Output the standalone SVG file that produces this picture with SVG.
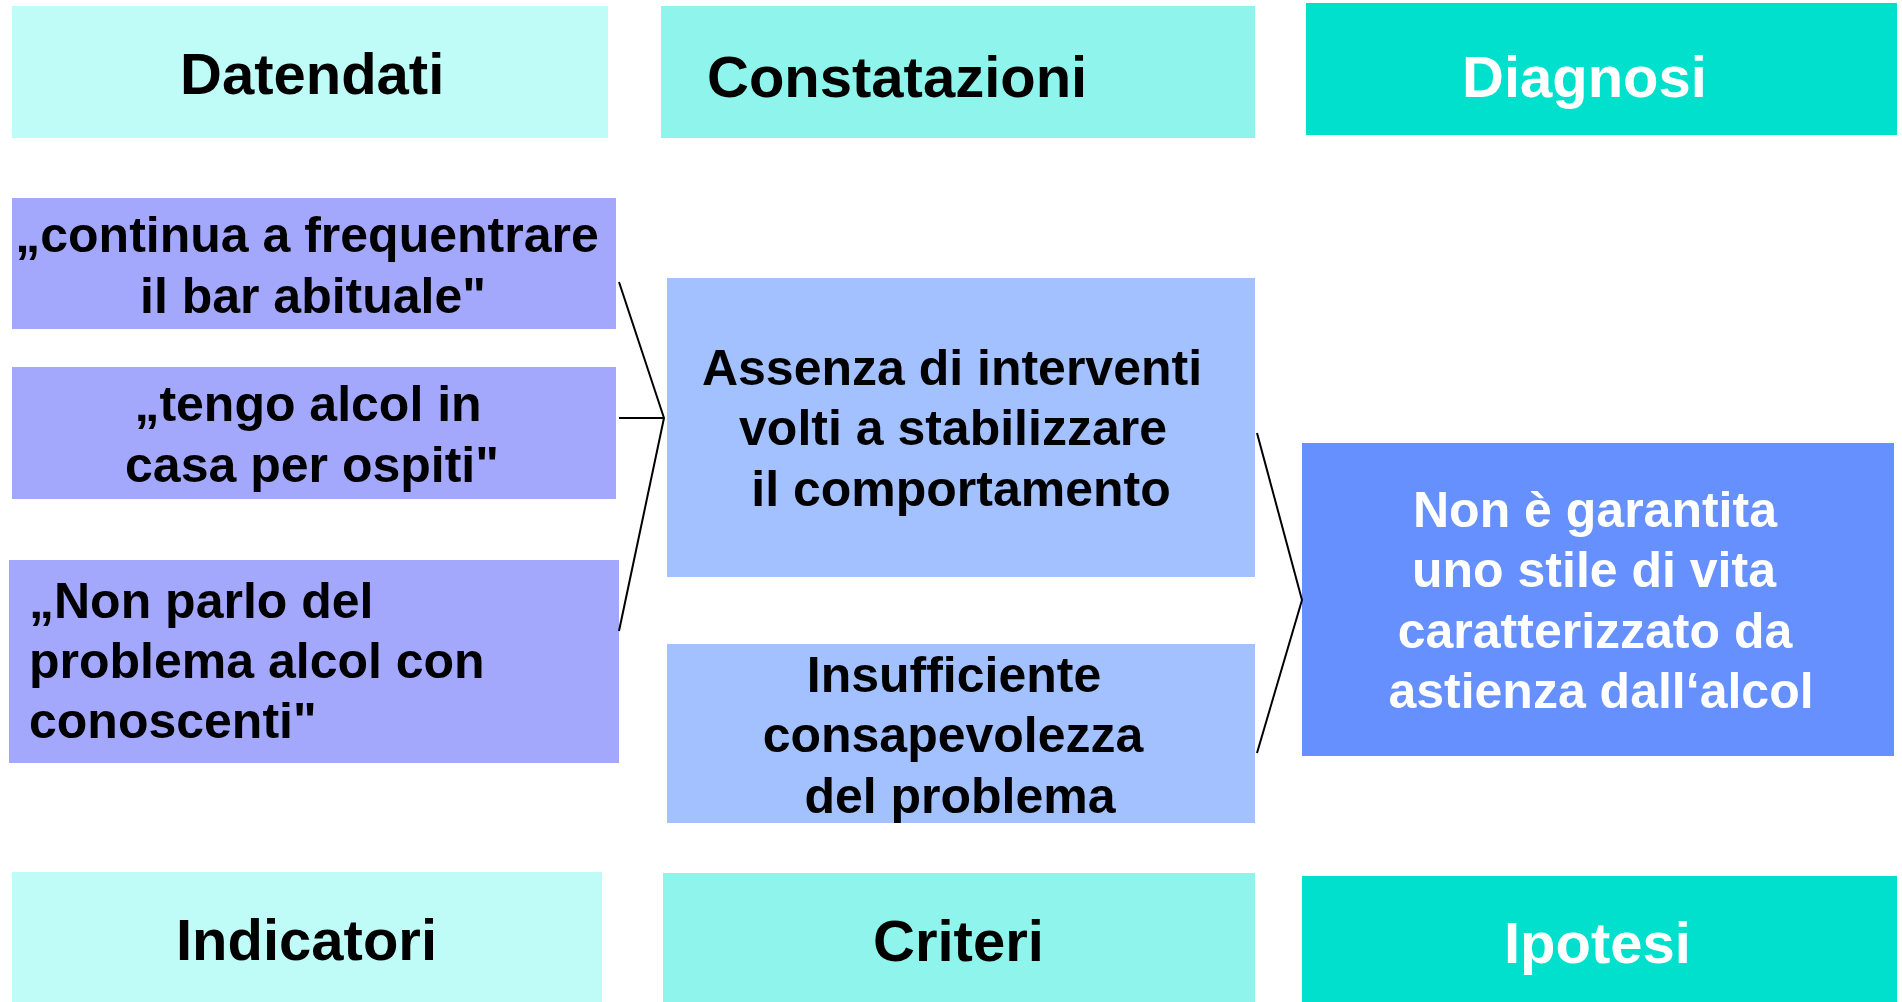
<svg xmlns="http://www.w3.org/2000/svg" width="1902" height="1002" viewBox="0 0 1902 1002">
<style>
text{font-family:"Liberation Sans",Arial,sans-serif;font-weight:bold}
.h{font-size:58px}
.b{font-size:50px}
.k{fill:#000}
.w{fill:#fff}
.c1{fill:#BFFCF7}
.c2{fill:#8FF4EC}
.c3{fill:#00E0CC}
.lv{fill:#A3A8FD}
.lb{fill:#A3C1FE}
.db{fill:#6590FE}
.conn{fill:none;stroke:#000;stroke-width:2}
</style>
<rect width="1902" height="1002" fill="#fff"/>
<g id="datendati"><rect class="c1" x="12" y="6" width="596" height="132"/><text class="h k" x="180" y="94">Datendati</text></g>
<g id="constatazioni"><rect class="c2" x="661" y="6" width="594" height="132"/><text class="h k" x="707" y="97">Constatazioni</text></g>
<g id="diagnosi"><rect class="c3" x="1306" y="3" width="591" height="132"/><text class="h w" x="1462" y="97">Diagnosi</text></g>
<g id="d1"><rect class="lv" x="12" y="198" width="604" height="131"/><text class="b k" text-anchor="middle"><tspan x="307" y="252">„continua a frequentrare</tspan><tspan x="313" y="313">il bar abituale"</tspan></text></g>
<g id="d2"><rect class="lv" x="12" y="367" width="604" height="132"/><text class="b k" text-anchor="middle"><tspan x="308" y="421">„tengo alcol in</tspan><tspan x="312" y="482">casa per ospiti"</tspan></text></g>
<g id="d3"><rect class="lv" x="9" y="560" width="610" height="203"/><text class="b k"><tspan x="29" y="618">„Non parlo del</tspan><tspan x="29" y="678">problema alcol con</tspan><tspan x="29" y="738">conoscenti"</tspan></text></g>
<g id="c1"><rect class="lb" x="667" y="278" width="588" height="299"/><text class="b k" text-anchor="middle"><tspan x="952" y="385">Assenza di interventi</tspan><tspan x="953" y="445">volti a stabilizzare</tspan><tspan x="961" y="506">il comportamento</tspan></text></g>
<g id="c2"><rect class="lb" x="667" y="644" width="588" height="179"/><text class="b k" text-anchor="middle"><tspan x="954" y="692">Insufficiente</tspan><tspan x="953" y="752">consapevolezza</tspan><tspan x="960" y="813">del problema</tspan></text></g>
<g id="dx"><rect class="db" x="1302" y="443" width="592" height="313"/><text class="b w" text-anchor="middle"><tspan x="1595" y="527">Non è garantita</tspan><tspan x="1594" y="587">uno stile di vita</tspan><tspan x="1595" y="648">caratterizzato da</tspan><tspan x="1601" y="708">astienza dall‘alcol</tspan></text></g>
<g id="indicatori"><rect class="c1" x="12" y="872" width="590" height="130"/><text class="h k" x="176" y="960">Indicatori</text></g>
<g id="criteri"><rect class="c2" x="663" y="873" width="592" height="129"/><text class="h k" x="873" y="961">Criteri</text></g>
<g id="ipotesi"><rect class="c3" x="1302" y="876" width="595" height="126"/><text class="h w" x="1504" y="963">Ipotesi</text></g>
<g id="connectors">
<polyline class="conn" points="619,282 664,418 619,631"/>
<line class="conn" x1="619" y1="418" x2="664" y2="418"/>
<polyline class="conn" points="1257,433 1302,600 1257,753"/>
</g>
</svg>
